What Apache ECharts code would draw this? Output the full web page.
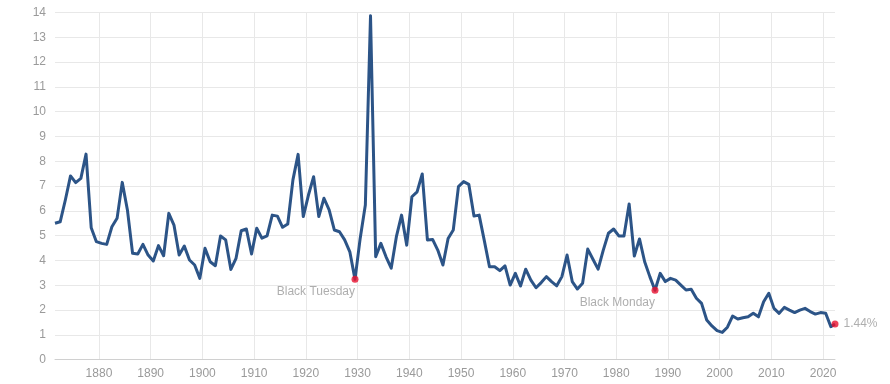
<!DOCTYPE html>
<html>
<head>
<meta charset="utf-8">
<script src="https://cdn.jsdelivr.net/npm/echarts@6/dist/echarts.min.js"></script>
<style>
html,body{margin:0;padding:0;background:#fff;}
#chart{width:890px;height:384px;}
</style>
</head>
<body>
<div id="chart"></div>
<script>
// Annual S&P 500 dividend yield (%), 1871..2021 (plotted mid-year)
var startYear = 1871;
var yields = [
  5.50, 5.56, 6.44, 7.41, 7.14, 7.31, 8.29, 5.32, 4.76, 4.69,
  4.65, 5.36, 5.70, 7.15, 6.04, 4.29, 4.26, 4.65, 4.22, 3.98,
  4.60, 4.19, 5.90, 5.43, 4.22, 4.58, 4.02, 3.82, 3.28, 4.49,
  3.95, 3.79, 4.99, 4.83, 3.64, 4.09, 5.20, 5.27, 4.26, 5.30,
  4.90, 4.99, 5.83, 5.79, 5.34, 5.47, 7.25, 8.28, 5.77, 6.64,
  7.38, 5.77, 6.51, 6.04, 5.23, 5.16, 4.83, 4.35, 3.24, 4.89,
  6.24, 13.87, 4.15, 4.69, 4.15, 3.69, 4.96, 5.83, 4.62, 6.57,
  6.77, 7.49, 4.83, 4.85, 4.42, 3.82, 4.89, 5.23, 6.98, 7.18,
  7.07, 5.79, 5.83, 4.80, 3.75, 3.75, 3.59, 3.78, 3.01, 3.48,
  2.97, 3.65, 3.21, 2.90, 3.11, 3.35, 3.15, 2.98, 3.35, 4.22,
  3.15, 2.85, 3.08, 4.46, 4.05, 3.65, 4.42, 5.10, 5.27, 4.99,
  4.99, 6.28, 4.18, 4.87, 3.95, 3.35, 2.80, 3.48, 3.15, 3.28,
  3.21, 3.01, 2.81, 2.84, 2.48, 2.27, 1.60, 1.36, 1.17, 1.10,
  1.31, 1.76, 1.64, 1.69, 1.73, 1.87, 1.73, 2.34, 2.68, 2.07,
  1.87, 2.11, 2.00, 1.90, 2.00, 2.07, 1.94, 1.84, 1.90, 1.87,
  1.33
];
// Latest reading
var latestDate = 2022.3;
var latestValue = 1.44;
var latestLabel = '1.44%';
// Annotated events
var eventNames = ['Black Tuesday', 'Black Monday'];
var eventYears = [1929, 1987];

var yTicks = [0,1,2,3,4,5,6,7,8,9,10,11,12,13,14];

var lineData = yields.map(function (v, i) { return [startYear + i + 0.5, v]; });
lineData.push([latestDate, latestValue]);

var eventData = eventYears.map(function (y, i) {
  return { value: [y + 0.5, yields[y - startYear]], name: eventNames[i] };
});

var chart = echarts.init(document.getElementById('chart'), null, {renderer: 'canvas'});
var txt = '#9a9a9a';
var font = 'Arial, "Liberation Sans", sans-serif';
chart.setOption({
  animation: false,
  backgroundColor: '#fff',
  grid: { left: 55, right: 55, top: 12.5, bottom: 24.3, containLabel: false },
  xAxis: {
    type: 'value',
    min: startYear + 0.5,
    max: latestDate,
    minInterval: 10,
    maxInterval: 10,
    axisLine: { show: true, lineStyle: { color: '#d0d0d0', width: 1 } },
    axisTick: { show: false },
    axisLabel: {
      color: txt, fontSize: 12, fontFamily: font, margin: 8,
      showMinLabel: false, showMaxLabel: false,
      formatter: function (v) { return String(Math.round(v)); }
    },
    splitLine: { show: true, showMinLine: false, showMaxLine: false, lineStyle: { color: '#e8e8e8', width: 1 } }
  },
  yAxis: {
    type: 'value',
    min: yTicks[0],
    max: yTicks[yTicks.length - 1],
    interval: 1,
    axisLine: { show: false },
    axisTick: { show: false },
    axisLabel: { color: txt, fontSize: 12, fontFamily: font, margin: 9 },
    splitLine: { show: true, lineStyle: { color: '#e8e8e8', width: 1 } }
  },
  series: [
    {
      type: 'line',
      data: lineData,
      showSymbol: false,
      symbol: 'none',
      lineStyle: { color: '#2c5487', width: 3, join: 'round' },
      z: 2
    },
    {
      type: 'scatter',
      data: eventData,
      symbol: 'circle',
      symbolSize: 7,
      itemStyle: { color: '#e8102e' },
      label: {
        show: true, position: 'bottom', distance: 3, align: 'right',
        formatter: '{b}', color: txt, fontSize: 12, fontFamily: font
      },
      z: 3
    },
    {
      type: 'scatter',
      data: [{ value: [latestDate, latestValue], name: latestLabel }],
      symbol: 'circle',
      symbolSize: 7,
      itemStyle: { color: '#e8102e' },
      label: {
        show: true, position: 'right', distance: 5,
        formatter: '{b}', color: txt, fontSize: 12, fontFamily: font
      },
      z: 3
    }
  ]
});
</script>
</body>
</html>
